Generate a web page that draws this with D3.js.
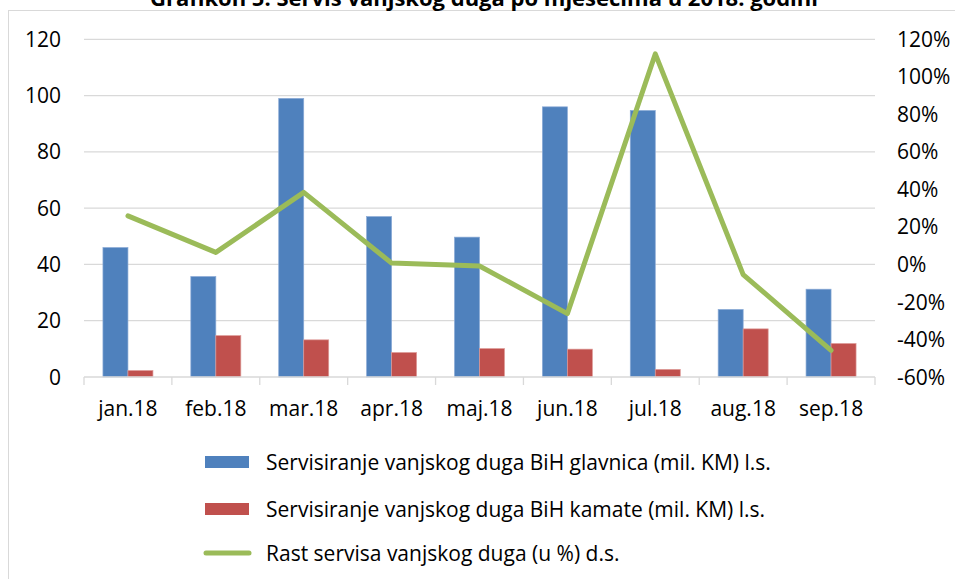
<!DOCTYPE html>
<html>
<head>
<meta charset="utf-8">
<script src="https://cdn.jsdelivr.net/npm/d3@7"></script>
<style>
  body { margin: 0; background: #fff; }
  svg text { font-family: "Open Sans", "Lato", sans-serif; fill: #000; }
</style>
</head>
<body>
<svg id="chart" width="955" height="579"></svg>
<script>
// data
const months = ["jan.18", "feb.18", "mar.18", "apr.18", "maj.18", "jun.18", "jul.18", "aug.18", "sep.18"];
const glavnica = [46, 35.7, 99, 57, 49.7, 96, 94.7, 24, 31.2];
const kamate = [2.3, 14.7, 13.2, 8.7, 10.1, 9.9, 2.7, 17.1, 11.9];
const rast = [25.9, 6.4, 38.4, 0.7, -0.8, -26.2, 112.2, -5.4, -45.8];
const leftTicks = [0, 20, 40, 60, 80, 100, 120];
const rightTicks = [-60, -40, -20, 0, 20, 40, 60, 80, 100, 120];

const seriesNames = [
    "Servisiranje vanjskog duga BiH glavnica (mil. KM) l.s.",
    "Servisiranje vanjskog duga BiH kamate (mil. KM) l.s.",
    "Rast servisa vanjskog duga (u %) d.s."
];

const colors = { blue: "#4F81BD", red: "#C0504D", green: "#9BBB59", grid: "#D9D9D9" };
const fontSize = "21px";

const svg = d3.select("#chart");
const plot = { left: 84, right: 875, top: 39.3, bottom: 377 };

// chart frame
svg.append("rect")
    .attr("x", 8.5).attr("y", 10.5)
    .attr("width", 960).attr("height", 600)
    .style("fill", "none").style("stroke", colors.grid).style("stroke-width", 1);

// title, cut off at top like the original
svg.append("text")
    .attr("x", 484).attr("y", 6)
    .attr("text-anchor", "middle")
    .style("font-weight", "bold").style("font-size", "22px")
    .text("Grafikon 5. Servis vanjskog duga po mjesecima u 2018. godini");

const x = d3.scaleBand().domain(months).range([plot.left, plot.right]);
const yL = d3.scaleLinear().domain([0, 120]).range([plot.bottom, plot.top]);
const yR = d3.scaleLinear().domain([-60, 120]).range([plot.bottom, plot.top]);

// gridlines
svg.append("g")
    .selectAll("line")
    .data(leftTicks.slice(1))
    .join("line")
        .attr("x1", plot.left).attr("x2", plot.right)
        .attr("y1", d => yL(d)).attr("y2", d => yL(d))
        .style("stroke", colors.grid).style("stroke-width", 1.3);

// left axis labels
svg.append("g")
    .selectAll("text")
    .data(leftTicks)
    .join("text")
        .attr("x", 61).attr("y", d => yL(d))
        .attr("dy", "0.36em")
        .attr("text-anchor", "end")
        .style("font-size", fontSize)
        .text(d => d);

// right axis labels
svg.append("g")
    .selectAll("text")
    .data(rightTicks)
    .join("text")
        .attr("x", 897).attr("y", d => yR(d))
        .attr("dy", "0.36em")
        .style("font-size", fontSize)
        .text(d => d + "%");

// bars
const barW = 25;
const bars = svg.append("g");
bars.selectAll("rect.g")
    .data(months)
    .join("rect")
        .attr("class", "g")
        .attr("x", d => x(d) + x.bandwidth() / 2 - barW)
        .attr("y", (d, i) => yL(glavnica[i]))
        .attr("width", barW)
        .attr("height", (d, i) => yL(0) - yL(glavnica[i]))
        .style("fill", colors.blue)
        .style("stroke", "#8AAAD6").style("stroke-width", 0.7);

bars.selectAll("rect.k")
    .data(months)
    .join("rect")
        .attr("class", "k")
        .attr("x", d => x(d) + x.bandwidth() / 2)
        .attr("y", (d, i) => yL(kamate[i]))
        .attr("width", barW)
        .attr("height", (d, i) => yL(0) - yL(kamate[i]))
        .style("fill", colors.red)
        .style("stroke", "#DD9A98").style("stroke-width", 0.7);

// x axis line and ticks
const xAxis = svg.append("g");
xAxis.append("line")
    .attr("x1", plot.left).attr("x2", plot.right)
    .attr("y1", plot.bottom).attr("y2", plot.bottom)
    .style("stroke", colors.grid).style("stroke-width", 1.3);
xAxis.selectAll("line.tick")
    .data(months.concat(["end"]))
    .join("line")
        .attr("class", "tick")
        .attr("x1", (d, i) => i < months.length ? x(d) : plot.right)
        .attr("x2", (d, i) => i < months.length ? x(d) : plot.right)
        .attr("y1", plot.bottom).attr("y2", plot.bottom + 8)
        .style("stroke", colors.grid).style("stroke-width", 1.3);
xAxis.selectAll("text")
    .data(months)
    .join("text")
        .attr("x", d => x(d) + x.bandwidth() / 2)
        .attr("y", 408)
        .attr("dy", "0.36em")
        .attr("text-anchor", "middle")
        .style("font-size", fontSize)
        .text(d => d);

// growth line
const line = d3.line()
    .x((d, i) => x(months[i]) + x.bandwidth() / 2)
    .y(d => yR(d));

svg.append("path")
    .attr("d", line(rast))
    .style("fill", "none")
    .style("stroke", colors.green)
    .style("stroke-width", 5)
    .style("stroke-linejoin", "round")
    .style("stroke-linecap", "round");

// legend
const legend = svg.append("g");
const rows = [462, 509, 553];
seriesNames.forEach((name, i) => {
    if (i < 2) {
        legend.append("rect")
            .attr("x", 205).attr("y", rows[i] - 6)
            .attr("width", 44).attr("height", 12)
            .style("fill", i === 0 ? colors.blue : colors.red);
    } else {
        legend.append("line")
            .attr("x1", 206).attr("x2", 249)
            .attr("y1", rows[i]).attr("y2", rows[i])
            .style("stroke", colors.green)
            .style("stroke-width", 5)
            .style("stroke-linecap", "round");
    }
    legend.append("text")
        .attr("x", 266).attr("y", rows[i])
        .attr("dy", "0.36em")
        .style("font-size", fontSize)
        .text(name);
});
</script>
</body>
</html>
